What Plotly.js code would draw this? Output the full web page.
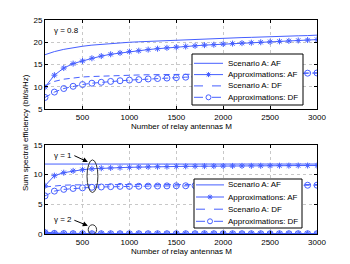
<!DOCTYPE html>
<html><head><meta charset="utf-8">
<script src="https://cdn.plot.ly/plotly-3.0.1.min.js"></script>
<style>html,body{margin:0;padding:0;background:#fff}#chart{width:350px;height:264px}</style>
</head><body><div id="chart"></div>
<script>
const M = [100,200,300,400,500,600,700,800,900,1000,1100,1200,1300,1400,1500,1600,1700,1800,1900,2000,2100,2200,2300,2400,2500,2600,2700,2800,2900,3000];
// gamma = 0.8 (top)
const topAFsim = [17.2,17.9,18.4,18.8,19.1,19.35,19.55,19.7,19.85,20.0,20.1,20.2,20.3,20.4,20.5,20.6,20.65,20.75,20.8,20.9,20.95,21.05,21.1,21.2,21.25,21.3,21.4,21.45,21.5,21.6];
const topAFapx = [9.9,12.6,14.2,15.2,15.8,16.4,16.9,17.3,17.6,17.9,18.1,18.35,18.55,18.75,18.9,19.05,19.2,19.35,19.45,19.6,19.7,19.8,19.9,20.0,20.1,20.2,20.3,20.4,20.5,20.6];
const topDFsim = [10.2,11.2,11.7,12.0,12.2,12.3,12.4,12.5,12.55,12.6,12.65,12.7,12.72,12.75,12.8,12.82,12.85,12.87,12.9,12.92,12.94,12.96,12.98,13.0,13.02,13.04,13.06,13.08,13.1,13.1];
const topDFapx = [7.6,8.8,9.6,10.1,10.5,10.8,11.0,11.2,11.35,11.5,11.6,11.75,11.85,11.95,12.05,12.15,12.25,12.3,12.4,12.5,12.55,12.6,12.7,12.75,12.8,12.85,12.9,13.0,13.05,13.1];
// gamma = 1 (bottom)
const g1AFsim = [11.75,11.75,11.75,11.75,11.75,11.75,11.75,11.75,11.75,11.75,11.75,11.75,11.75,11.75,11.75,11.75,11.75,11.75,11.75,11.75,11.75,11.75,11.75,11.75,11.75,11.75,11.75,11.75,11.75,11.75];
const g1AFapx = [8.1,9.8,10.3,10.6,10.8,10.95,11.05,11.1,11.15,11.2,11.25,11.28,11.3,11.32,11.35,11.37,11.38,11.4,11.41,11.42,11.43,11.44,11.45,11.46,11.47,11.48,11.49,11.5,11.5,11.5];
const g1DFsim = [7.9,8.1,8.2,8.25,8.28,8.3,8.3,8.3,8.3,8.3,8.3,8.3,8.3,8.3,8.3,8.3,8.3,8.3,8.3,8.3,8.3,8.3,8.3,8.3,8.3,8.3,8.3,8.3,8.3,8.3];
const g1DFapx = [6.4,7.2,7.5,7.65,7.75,7.85,7.9,7.95,8.0,8.0,8.02,8.04,8.06,8.08,8.1,8.1,8.12,8.12,8.14,8.14,8.15,8.15,8.16,8.16,8.17,8.17,8.18,8.18,8.19,8.2];
// gamma = 2 (bottom)
const g2AFsim = [0.06,0.06,0.06,0.06,0.06,0.06,0.06,0.06,0.06,0.06,0.06,0.06,0.06,0.06,0.06,0.06,0.06,0.06,0.06,0.06,0.06,0.06,0.06,0.06,0.06,0.06,0.06,0.06,0.06,0.06];
const g2AFapx = [0.35,0.15,0.1,0.08,0.07,0.06,0.06,0.05,0.05,0.05,0.05,0.05,0.05,0.05,0.05,0.05,0.05,0.05,0.05,0.05,0.05,0.05,0.05,0.05,0.05,0.05,0.05,0.05,0.05,0.05];
const g2DFsim = [0.05,0.05,0.05,0.05,0.05,0.05,0.05,0.05,0.05,0.05,0.05,0.05,0.05,0.05,0.05,0.05,0.05,0.05,0.05,0.05,0.05,0.05,0.05,0.05,0.05,0.05,0.05,0.05,0.05,0.05];
const g2DFapx = [0.2,0.1,0.07,0.05,0.05,0.04,0.04,0.04,0.04,0.04,0.04,0.04,0.04,0.04,0.04,0.04,0.04,0.04,0.04,0.04,0.04,0.04,0.04,0.04,0.04,0.04,0.04,0.04,0.04,0.04];
const names = ['Scenario A: AF','Approximations: AF','Scenario A: DF','Approximations: DF'];
const xTicks = [500,1000,1500,2000,2500,3000];

const C = 'rgb(70,95,255)';
const F = 'Liberation Sans, Arial, sans-serif';
const W = 350, H = 264, ML = 45, MR = 33, MT = 20, MB = 30;
const PW = W - ML - MR, PH = H - MT - MB;
const px = v => (v - ML) / PW;          // pixel x -> paper
const py = v => (H - MB - v) / PH;      // pixel y -> paper

function styles(i){
  return [
    {mode:'lines', line:{color:C,width:1}},
    {mode:'lines+markers', line:{color:C,width:1}, marker:{symbol:'asterisk-open',size:5,color:C,line:{color:C,width:1}}},
    {mode:'lines', line:{color:C,width:1,dash:'6px,4px'}},
    {mode:'lines+markers', line:{color:C,width:1,dash:'6px,4px'}, marker:{symbol:'circle-open',size:6,color:C,line:{color:C,width:1}}}
  ][i];
}
const traces = [];
[topAFsim,topAFapx,topDFsim,topDFapx].forEach((y,i)=>traces.push(Object.assign({x:M,y:y,name:names[i],xaxis:'x',yaxis:'y',showlegend:false},styles(i))));
[g1AFsim,g1AFapx,g1DFsim,g1DFapx].forEach((y,i)=>traces.push(Object.assign({x:M,y:y,name:names[i],xaxis:'x2',yaxis:'y2',showlegend:false},styles(i))));
[g2AFsim,g2AFapx,g2DFsim,g2DFapx].forEach((y,i)=>traces.push(Object.assign({x:M,y:y,name:names[i],xaxis:'x2',yaxis:'y2',showlegend:false},styles(i))));

const ax = {range:[100,3000], tickvals:xTicks, showline:true, linecolor:'black', linewidth:1, mirror:'allticks', ticks:'inside', ticklen:3, tickcolor:'black', showgrid:true, gridcolor:'#c8c8c8', griddash:'dot', zeroline:false, automargin:false, tickfont:{size:8,family:F,color:'black'}};

const shapes = [
  {type:'circle', xref:'x2', yref:'y2', x0:548, x1:664, y0:6.97, y1:12.45, line:{color:'#333',width:1}},
  {type:'circle', xref:'x2', yref:'y2', x0:561, x1:650, y0:-0.1, y1:1.55, line:{color:'#333',width:1}}
];
const annotations = [
  {text:'Sum spectral efficiency (bit/s/Hz)', xref:'paper', yref:'paper', x:px(25), y:py(133), textangle:-90, showarrow:false, xanchor:'center', yanchor:'middle', font:{size:8,family:F}},
  {text:'Number of relay antennas M', xref:'paper', yref:'paper', x:px(181), y:py(126.5), showarrow:false, xanchor:'center', yanchor:'middle', font:{size:8,family:F}},
  {text:'Number of relay antennas M', xref:'paper', yref:'paper', x:px(181), y:py(251.5), showarrow:false, xanchor:'center', yanchor:'middle', font:{size:8,family:F}},
  {text:'γ = 0.8', xref:'paper', yref:'paper', x:px(52), y:py(30), xanchor:'left', yanchor:'middle', showarrow:false, font:{size:8,family:F}},
  {text:'γ = 1', xref:'paper', yref:'paper', x:px(52), y:py(155), xanchor:'left', yanchor:'middle', showarrow:false, font:{size:8,family:F}},
  {text:'γ = 2', xref:'paper', yref:'paper', x:px(52), y:py(219), xanchor:'left', yanchor:'middle', showarrow:false, font:{size:8,family:F}},
  {text:'', xref:'x2', yref:'y2', x:557, y:12.1, ax:-15, ay:-7, showarrow:true, arrowhead:2, arrowsize:1, arrowwidth:1, arrowcolor:'black'},
  {text:'', xref:'x2', yref:'y2', x:557, y:1.4, ax:-15, ay:-6, showarrow:true, arrowhead:2, arrowsize:1, arrowwidth:1, arrowcolor:'black'}
];
// custom compact legends (box + line samples + labels), positioned in pixels
function addLegend(box, rows, lx0, lx1, tx){
  shapes.push({type:'rect', xref:'paper', yref:'paper', x0:px(box[0]), x1:px(box[1]), y0:py(box[3]), y1:py(box[2]), fillcolor:'white', line:{color:'black',width:1}, layer:'above'});
  rows.forEach((ry,i)=>{
    const dash = (i>=2) ? 'dash' : 'solid';
    shapes.push({type:'line', xref:'paper', yref:'paper', x0:px(lx0), x1:px(lx1), y0:py(ry), y1:py(ry), line:{color:C,width:1,dash:dash}});
    const cx = px((lx0+lx1)/2), cy = py(ry);
    if(i===1){
      shapes.push({type:'path', xref:'paper', yref:'paper', xsizemode:'pixel', ysizemode:'pixel', xanchor:cx, yanchor:cy,
        path:'M-2.5,0L2.5,0M0,-2.5L0,2.5M-1.8,-1.8L1.8,1.8M-1.8,1.8L1.8,-1.8', line:{color:C,width:1}});
    }
    if(i===3){
      shapes.push({type:'circle', xref:'paper', yref:'paper', xsizemode:'pixel', ysizemode:'pixel', xanchor:cx, yanchor:cy,
        x0:-2.5, x1:2.5, y0:-2.5, y1:2.5, fillcolor:'white', line:{color:C,width:1}});
    }
    annotations.push({text:names[i], xref:'paper', yref:'paper', x:px(tx), y:py(ry), xanchor:'left', yanchor:'middle', showarrow:false, font:{size:8,family:F}});
  });
}
addLegend([192,303,54,105], [63.3,74.6,85.9,97.3], 194, 223, 226);
addLegend([194,302,179,228], [184.9,197,209.2,221.3], 196, 224, 226);

const layout = {
  width:W, height:H, margin:{l:ML,r:MR,t:MT,b:MB}, paper_bgcolor:'white', plot_bgcolor:'white',
  font:{family:F,size:8,color:'black'}, showlegend:false,
  xaxis: Object.assign({}, ax, {anchor:'y'}),
  yaxis: Object.assign({}, ax, {range:[5,25], tickvals:[5,10,15,20,25], domain:[py(109),1], anchor:'x'}),
  xaxis2: Object.assign({}, ax, {anchor:'y2'}),
  yaxis2: Object.assign({}, ax, {range:[0,15], tickvals:[0,5,10,15], domain:[0,py(144.7)], anchor:'x2'}),
  shapes: shapes,
  annotations: annotations
};
Plotly.newPlot('chart', traces, layout, {staticPlot:true, displayModeBar:false});
</script></body></html>
